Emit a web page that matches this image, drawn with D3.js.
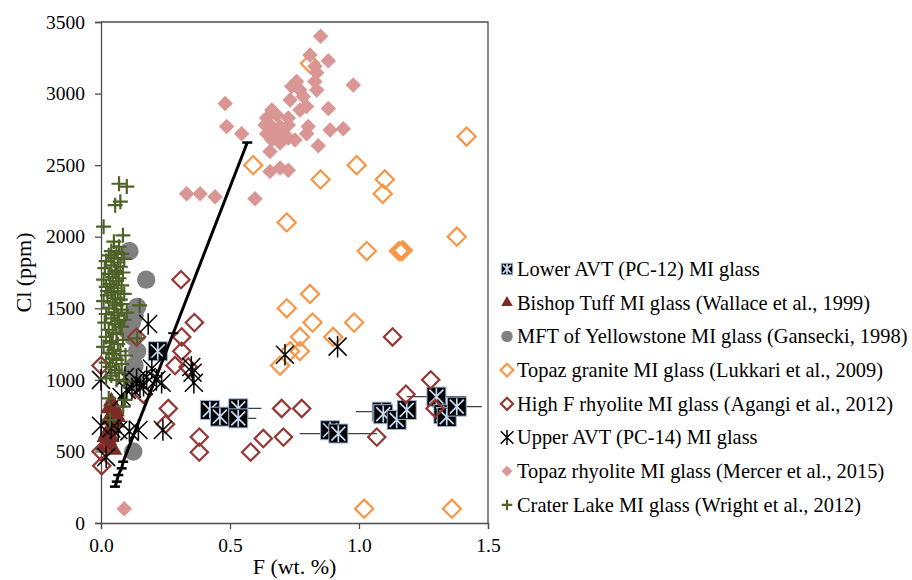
<!DOCTYPE html>
<html>
<head>
<meta charset="utf-8">
<script src="https://cdn.jsdelivr.net/npm/d3@7"></script>
<style>
  body { margin: 0; background: #fff; }
  svg text { font-family: "Liberation Serif", "Tinos", "Times New Roman", "DejaVu Serif", serif; fill: #000; }
</style>
</head>
<body>
<div class="chart"></div>
<script>
// Series data: F (wt. %) and Cl (ppm)
var lowerF   = [0.22, 0.422, 0.461, 0.532, 0.532, 0.888, 0.92, 1.088, 1.094, 1.146, 1.185, 1.30, 1.327, 1.34, 1.379];
var lowerCl  = [1200, 790, 743, 801, 731, 648, 625, 778, 760, 720, 790, 883, 760, 740, 813];
var lowerErr = [0.02, 0.03, 0.03, 0.09, 0.07, 0.03, 0.15, 0.10, 0.03, 0.03, 0.03, 0.115, 0.03, 0.03, 0.097];

var bishopF  = [0.04, 0.05, 0.03, 0.06, 0.04, 0.05, 0.03, 0.06, 0.04, 0.05, 0.03, 0.02, 0.04, 0.03, 0.02, 0.01, 0.03, 0.05, 0.065, 0.015];
var bishopCl = [850, 820, 800, 780, 760, 740, 720, 700, 680, 660, 640, 620, 600, 580, 560, 540, 520, 510, 740, 600];

var mftF  = [0.11, 0.175, 0.14, 0.13, 0.12, 0.1, 0.125, 0.14, 0.13, 0.12, 0.135, 0.125];
var mftCl = [1900, 1700, 1510, 1450, 1400, 1350, 1300, 1200, 1100, 1050, 990, 500];

var graniteF  = [0.81, 1.417, 0.59, 0.991, 0.851, 1.10, 1.092, 0.72, 1.379, 1.03, 1.155, 1.165, 1.17, 0.81, 0.72, 0.82, 0.981, 0.771, 0.90, 0.733, 0.771, 0.694, 1.02, 1.36];
var graniteCl = [3210, 2700, 2500, 2500, 2400, 2400, 2300, 2100, 2000, 1900, 1900, 1900, 1905, 1600, 1500, 1400, 1400, 1300, 1300, 1200, 1200, 1100, 100, 100];

var highFF  = [0.31, 0.362, 0.138, 0.313, 0.313, 1.13, 0.0, 0.287, 0.338, 1.278, 1.182, 0.164, 0.261, 0.70, 0.778, 1.295, 0.25, 0.381, 0.629, 0.707, 1.069, 0.381, 0.58, 0.0, 0.003];
var highFCl = [1700, 1400, 1300, 1300, 1200, 1300, 1100, 1100, 1090, 1000, 900, 900, 800, 800, 800, 800, 690, 600, 590, 600, 600, 495, 495, 500, 400];

var upperF  = [0.183, 0.713, 0.917, 0.35, 0.355, 0.36, 0.0, 0.0, 0.02, 0.067, 0.11, 0.145, 0.24, 0.093, 0.138, 0.177, 0.197, 0.235, 0.10, 0.151, 0.08, 0.12, 0.165, 0.215, 0.04];
var upperCl = [1390, 1175, 1232, 1090, 1050, 980, 1000, 680, 460, 650, 640, 650, 650, 1020, 1000, 1020, 1080, 980, 930, 950, 880, 940, 960, 1000, 660];

var rhyoF  = [0.851, 0.81, 0.881, 0.829, 0.836, 0.829, 0.978, 0.836, 0.758, 0.771, 0.739, 0.784, 0.733, 0.797, 0.771, 0.881, 0.481, 0.662, 0.681, 0.642, 0.726, 0.636, 0.662, 0.694, 0.726, 0.803, 0.487, 0.888, 0.939, 0.545, 0.642, 0.674, 0.707, 0.797, 0.726, 0.752, 0.662, 0.694, 0.842, 0.655, 0.655, 0.694, 0.726, 0.332, 0.384, 0.442, 0.597, 0.09];
var rhyoCl = [3400, 3270, 3230, 3190, 3145, 3085, 3060, 3025, 3085, 3025, 3050, 2980, 2955, 2910, 2885, 2895, 2930, 2885, 2850, 2830, 2830, 2780, 2770, 2770, 2780, 2770, 2770, 2745, 2755, 2720, 2720, 2710, 2720, 2720, 2690, 2675, 2675, 2655, 2635, 2595, 2455, 2480, 2465, 2300, 2300, 2280, 2265, 100];

var craterF  = [0.07, 0.1, 0.075, 0.055, 0.01, 0.085, 0.05, 0.07, 0.04, 0.06, 0.08, 0.03, 0.05, 0.09, 0.02, 0.065, 0.04, 0.075, 0.015, 0.055, 0.085, 0.03, 0.045, 0.07, 0.01, 0.06, 0.035, 0.08, 0.02, 0.05, 0.065, 0.04, 0.09, 0.025, 0.055, 0.075, 0.01, 0.045, 0.06, 0.15, 0.03, 0.08, 0.05, 0.02, 0.065, 0.04, 0.09, 0.015, 0.055, 0.075, 0.03, 0.045, 0.06, 0.14, 0.02, 0.085, 0.04, 0.065, 0.01, 0.05, 0.075, 0.03, 0.095, 0.045, 0.06, 0.02, 0.08, 0.035, 0.055, 0.07, 0.04, 0.02, 0.06, 0.09, 0.03, 0.093, 0.086, 0.035, 0.08, 0.1, 0.025, 0.06, 0.045, 0.08, 0.035, 0.07];
var craterCl = [2370, 2350, 2245, 2220, 2070, 2010, 1965, 1930, 1900, 1890, 1880, 1870, 1850, 1845, 1830, 1820, 1800, 1790, 1780, 1760, 1750, 1740, 1720, 1710, 1700, 1690, 1670, 1660, 1650, 1640, 1620, 1610, 1600, 1590, 1570, 1560, 1550, 1540, 1520, 1520, 1500, 1490, 1470, 1460, 1450, 1430, 1420, 1400, 1390, 1370, 1350, 1330, 1320, 1290, 1300, 1280, 1260, 1250, 1230, 1210, 1200, 1190, 1170, 1150, 1140, 1120, 1110, 1090, 1070, 1050, 1030, 1010, 1000, 990, 870, 860, 813, 720, 1370, 1470, 1620, 1740, 1180, 1530, 1270, 1410];

var lineF  = [0.054, 0.061, 0.067, 0.08, 0.086, 0.28, 0.567];
var lineCl = [254, 289, 335, 382, 428, 1326, 2658];

var xTicks = [0, 0.5, 1.0, 1.5];
var yTicks = [0, 500, 1000, 1500, 2000, 2500, 3000, 3500];

var legendNames = [
  "Lower AVT (PC-12) MI glass",
  "Bishop Tuff MI glass (Wallace et al., 1999)",
  "MFT of Yellowstone MI glass (Gansecki, 1998)",
  "Topaz granite MI glass (Lukkari et al., 2009)",
  "High F rhyolite MI glass (Agangi et al., 2012)",
  "Upper AVT (PC-14) MI glass",
  "Topaz rhyolite MI glass (Mercer et al., 2015)",
  "Crater Lake MI glass (Wright et al., 2012)"
];

// Configuration
var width = 912, height = 580;
var plotL = 101, plotR = 488, plotT = 22, plotB = 523;
var serif = '"Liberation Serif", "Tinos", "Times New Roman", "DejaVu Serif", serif';

var svg = d3.select(".chart").append("svg")
    .attr("width", width)
    .attr("height", height);

var x = d3.scaleLinear().domain([0, 1.5]).range([plotL, plotR]);
var y = d3.scaleLinear().domain([0, 3500]).range([plotB, plotT]);

function zip(a, b) { return a.map(function(v, i) { return [v, b[i], i]; }); }

// frame (top + right)
svg.append("path")
    .attr("d", "M" + plotL + "," + plotT + "H" + plotR + "V" + plotB)
    .attr("fill", "none")
    .attr("stroke", "#4d4d4d")
    .attr("stroke-width", 1.3);

// axes
var yAxis = svg.append("g")
    .attr("transform", "translate(" + plotL + ",0)")
    .call(d3.axisLeft(y).tickValues(yTicks).tickSize(6).tickPadding(10).tickFormat(d3.format("d")));
var xAxis = svg.append("g")
    .attr("transform", "translate(0," + plotB + ")")
    .call(d3.axisBottom(x).tickValues(xTicks).tickSize(6).tickPadding(9).tickFormat(d3.format(".1f")));
[xAxis, yAxis].forEach(function(a) {
  a.attr("font-family", null).attr("font-size", null);
  a.select(".domain").attr("stroke", "#4d4d4d").attr("stroke-width", 1.3);
  a.selectAll(".tick line").attr("stroke", "#4d4d4d").attr("stroke-width", 1.3);
  a.selectAll("text").attr("font-family", serif).attr("font-size", "19.5px").attr("fill", "#000");
});

// axis titles
svg.append("text")
    .attr("x", (plotL + plotR) / 2)
    .attr("y", 574)
    .attr("text-anchor", "middle")
    .attr("font-family", serif)
    .attr("font-size", "22px")
    .text("F (wt. %)");
svg.append("text")
    .attr("transform", "translate(31," + ((plotT + plotB) / 2) + ") rotate(-90)")
    .attr("text-anchor", "middle")
    .attr("font-family", serif)
    .attr("font-size", "22px")
    .text("Cl (ppm)");

// marker painters: (g, scale) draws one marker centred at 0,0
function asterisk(r) {
  return "M" + (-r) + "," + (-r) + "L" + r + "," + r +
         "M" + (-r) + "," + r + "L" + r + "," + (-r) +
         "M0," + (-r * 1.2) + "L0," + (r * 1.2);
}
function plus(r) {
  return "M" + (-r) + ",0H" + r + "M0," + (-r) + "V" + r;
}
var diamond = d3.symbol().type(d3.symbolSquare);

var painters = [
  function(g, k) {
    g.append("rect").attr("x", -9.5 * k).attr("y", -9.5 * k).attr("width", 19 * k).attr("height", 19 * k)
      .attr("fill", "#000").attr("stroke", "#9bb7d9").attr("stroke-width", 1);
    g.append("path").attr("d", asterisk(7 * k)).attr("stroke", "#c6d9f1").attr("stroke-width", 1.7).attr("fill", "none");
  },
  function(g, k) {
    g.append("path").attr("d", d3.symbol().type(d3.symbolTriangle).size(120 * k * k)()).attr("fill", "#7b2c25");
  },
  function(g, k) {
    g.append("circle").attr("r", 9.2 * k).attr("fill", "#808080");
  },
  function(g, k) {
    g.append("path").attr("d", diamond.size(165 * k * k)()).attr("transform", "rotate(45)")
      .attr("fill", "none").attr("stroke", "#f79646").attr("stroke-width", 2.2);
  },
  function(g, k) {
    g.append("path").attr("d", diamond.size(150 * k * k)()).attr("transform", "rotate(45)")
      .attr("fill", "none").attr("stroke", "#953735").attr("stroke-width", 2.2);
  },
  function(g, k) {
    g.append("path").attr("d", asterisk(9 * k)).attr("stroke", "#000").attr("stroke-width", 1.5).attr("fill", "none");
  },
  function(g, k) {
    g.append("path").attr("d", diamond.size(120 * k * k)()).attr("transform", "rotate(45)").attr("fill", "#d99694");
  },
  function(g, k) {
    g.append("path").attr("d", plus(7.5 * k)).attr("stroke", "#4f6228").attr("stroke-width", 2.2).attr("fill", "none");
  }
];

var seriesF  = [lowerF, bishopF, mftF, graniteF, highFF, upperF, rhyoF, craterF];
var seriesCl = [lowerCl, bishopCl, mftCl, graniteCl, highFCl, upperCl, rhyoCl, craterCl];

// x error bars of the Lower AVT glass
svg.append("g").selectAll("line")
    .data(zip(lowerF, lowerCl))
    .enter().append("line")
    .attr("x1", function(d) { return x(d[0] - lowerErr[d[2]]); })
    .attr("x2", function(d) { return x(d[0] + lowerErr[d[2]]); })
    .attr("y1", function(d) { return y(d[1]); })
    .attr("y2", function(d) { return y(d[1]); })
    .attr("stroke", "#404040")
    .attr("stroke-width", 1.3);

// points, one group per series in legend order
seriesF.forEach(function(fs, s) {
  svg.append("g").attr("class", "series-" + s)
    .selectAll("g")
    .data(zip(fs, seriesCl[s]))
    .enter().append("g")
    .attr("transform", function(d) { return "translate(" + x(d[0]) + "," + y(d[1]) + ")"; })
    .each(function() { painters[s](d3.select(this), 1); });
});

// model line with dash markers
svg.append("path")
    .datum(zip(lineF, lineCl))
    .attr("d", d3.line().x(function(d) { return x(d[0]); }).y(function(d) { return y(d[1]); }))
    .attr("fill", "none")
    .attr("stroke", "#000")
    .attr("stroke-width", 3);
svg.append("g").selectAll("line")
    .data(zip(lineF, lineCl).filter(function(d) { return d[2] !== 5; }))
    .enter().append("line")
    .attr("x1", function(d) { return x(d[0]) - 5; })
    .attr("x2", function(d) { return x(d[0]) + 5; })
    .attr("y1", function(d) { return y(d[1]); })
    .attr("y2", function(d) { return y(d[1]); })
    .attr("stroke", "#000")
    .attr("stroke-width", 2.5);
svg.append("line")
    .attr("x1", x(lineF[5]) - 5).attr("x2", x(lineF[5]) + 5)
    .attr("y1", y(lineCl[5])).attr("y2", y(lineCl[5]))
    .attr("stroke", "#000").attr("stroke-width", 2);

// legend
var legend = svg.append("g").selectAll("g")
    .data(legendNames)
    .enter().append("g")
    .attr("transform", function(d, i) { return "translate(507," + (269 + i * 33.7) + ")"; });
legend.each(function(d, i) {
  var g = d3.select(this);
  var m = g.append("g");
  painters[i](m, i === 0 ? 0.6 : (i === 2 ? 0.62 : 0.7));
  g.append("text")
    .attr("x", 10)
    .attr("dy", "0.34em")
    .attr("font-family", serif)
    .attr("font-size", "20.4px")
    .text(d);
});
</script>
</body>
</html>
